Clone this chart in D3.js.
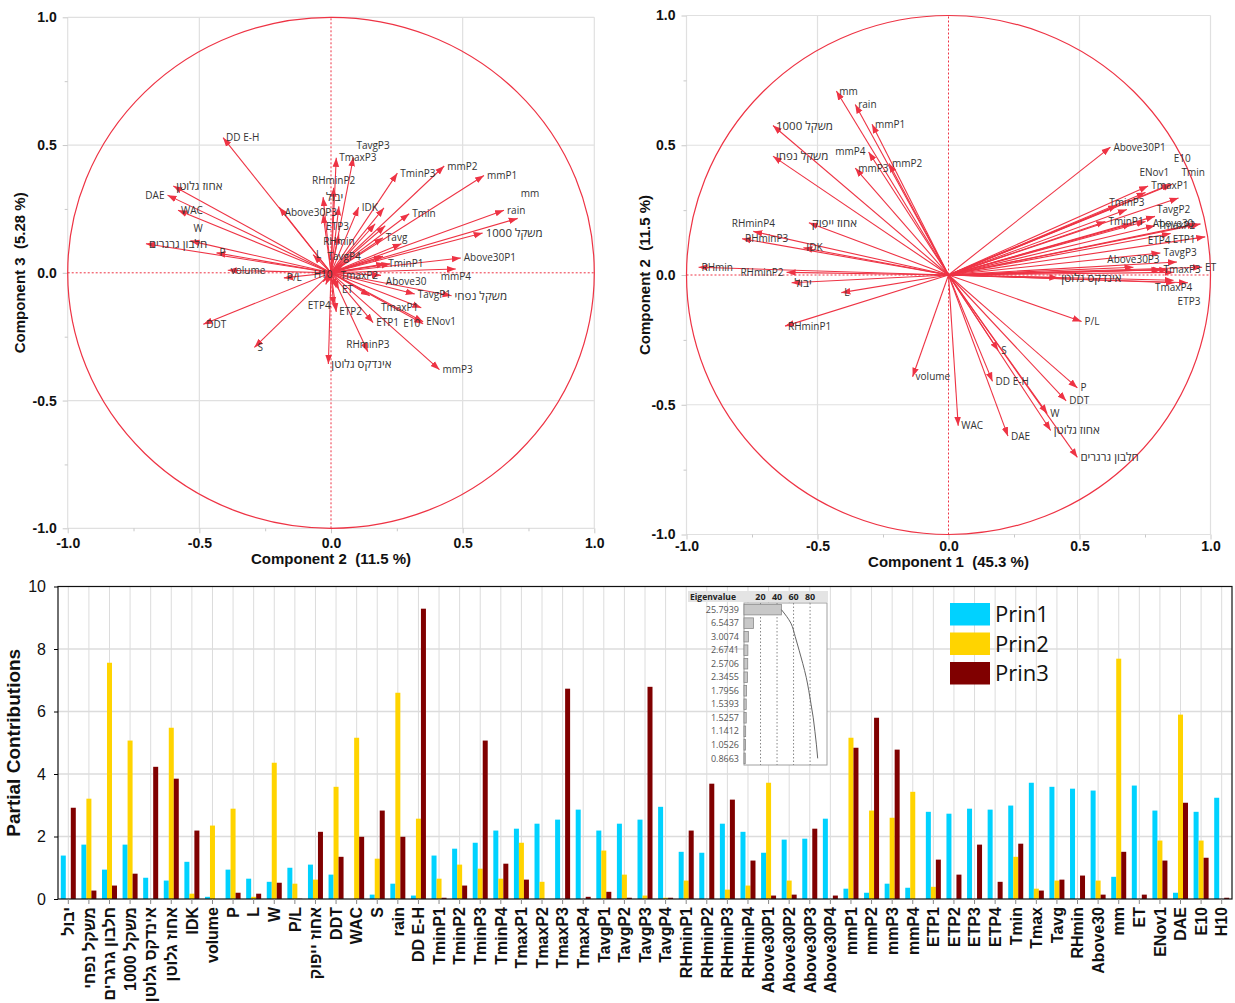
<!DOCTYPE html>
<html><head><meta charset="utf-8">
<script src="https://cdn.jsdelivr.net/npm/d3@7"></script>
<style>
body{margin:0;background:#fff}
text{white-space:pre}
</style>
</head><body>
<svg id="c" width="1235" height="1003"></svg>
<script>
// ---------------- DATA ----------------
const variables = ["יבול","משקל נפחי","חלבון גרגרים","משקל 1000","אינדקס גלוטן","אחוז גלוטן","IDK","volume","P","L","W","P/L","אחוז ייפוק","DDT","WAC","S","rain","DD E-H","TminP1","TminP2","TminP3","TminP4","TmaxP1","TmaxP2","TmaxP3","TmaxP4","TavgP1","TavgP2","TavgP3","TavgP4","RHminP1","RHminP2","RHminP3","RHminP4","Above30P1","Above30P2","Above30P3","Above30P4","mmP1","mmP2","mmP3","mmP4","ETP1","ETP2","ETP3","ETP4","Tmin","Tmax","Tavg","RHmin","Above30","mm","ET","ENov1","DAE","E10","H10"];

// partial contributions (bar chart)
const prin1 = [1.39,1.74,0.94,1.74,0.68,0.59,1.19,0.07,0.94,0.65,0.55,1.00,1.10,0.78,0.00,0.14,0.49,0.11,1.39,1.61,1.80,2.19,2.25,2.41,2.54,2.86,2.19,2.41,2.54,2.95,1.51,1.48,2.41,2.15,1.48,1.90,1.93,2.57,0.33,0.20,0.49,0.36,2.79,2.73,2.89,2.86,2.99,3.72,3.59,3.53,3.47,0.71,3.63,2.83,0.20,2.79,3.24];
const prin2 = [0.00,3.21,7.56,5.07,0.00,5.48,0.17,2.35,2.89,0.07,4.36,0.49,0.62,3.59,5.16,1.29,6.60,2.57,0.65,1.10,0.97,0.65,1.80,0.55,0.00,0.00,1.55,0.78,0.11,0.04,0.59,0.00,0.30,0.43,3.72,0.59,0.00,0.00,5.16,2.83,2.60,3.43,0.39,0.00,0.00,0.00,1.35,0.33,0.59,0.00,0.59,7.69,0.00,1.87,5.90,1.87,0.00];
const prin3 = [2.92,0.27,0.43,0.81,4.23,3.85,2.19,0.00,0.20,0.17,0.52,0.01,2.15,1.35,1.99,2.83,1.99,9.29,0.04,0.43,5.07,1.13,0.62,0.00,6.73,0.07,0.23,0.04,6.79,0.04,2.19,3.69,3.18,1.23,0.11,0.14,2.25,0.11,4.84,5.80,4.78,0.00,1.26,0.78,1.74,0.55,1.77,0.27,0.62,0.75,0.14,1.51,0.14,1.23,3.08,1.32,0.04];

// loadings (biplots)
const comp1 = [-0.599,-0.670,0.492,-0.670,0.419,0.390,-0.554,-0.137,0.492,-0.409,0.377,0.508,-0.533,0.449,0.037,0.190,-0.356,0.168,0.599,0.644,0.681,0.752,0.762,0.788,0.809,0.859,0.752,0.788,0.809,0.872,-0.624,-0.618,-0.788,-0.745,0.618,0.700,0.706,0.814,-0.292,-0.227,-0.356,-0.305,0.848,0.839,0.863,0.859,0.878,0.980,0.962,-0.954,0.946,-0.428,0.968,0.854,0.227,0.848,0.914];
const comp2 = [-0.030,0.458,-0.703,0.576,-0.010,-0.599,0.105,-0.392,-0.435,-0.068,-0.534,-0.179,0.201,-0.485,-0.581,-0.291,0.657,-0.410,0.206,0.268,0.252,0.206,0.343,0.190,0.020,-0.020,0.318,0.226,0.085,0.050,-0.197,0.010,0.140,0.168,0.493,0.197,0.030,0.020,0.581,0.430,0.412,0.474,0.160,0.020,-0.030,0.010,0.297,0.147,0.197,0.030,0.197,0.709,0.030,0.350,-0.621,0.350,-0.030];
const comp3 = [0.296,-0.090,0.114,0.156,-0.357,0.340,0.257,0.010,0.078,0.071,0.125,-0.020,0.254,-0.201,0.245,-0.292,0.245,0.529,0.035,0.114,0.390,0.184,-0.137,-0.010,0.450,-0.046,-0.083,0.035,0.452,0.035,0.257,0.333,-0.309,0.192,0.058,0.065,0.260,-0.058,0.381,0.418,-0.379,0.015,-0.195,-0.153,0.229,-0.129,0.231,-0.090,0.137,0.150,0.065,0.213,-0.065,-0.192,0.304,-0.199,-0.035];

const hiddenLeft = ["TminP2","TminP4","TmaxP4","TavgP2","RHminP1","RHminP4","Above30P2","Above30P4","Tmax","אחוז ייפוק"];
const hiddenRight = ["TminP2","TminP4","TavgP1","TavgP4","Above30P2","Above30P4","ETP2","Tmax","Tavg","H10"];

const eigenvalues = [25.7939,6.5437,3.0074,2.6741,2.5706,2.3455,1.7956,1.5393,1.5257,1.1412,1.0526,0.8663];
const eigenTicks = [20,40,60,80];
const biplotTicks = [-1,-0.5,0,0.5,1];
const biplotMinor = [-0.75,-0.25,0.25,0.75];
const barTicks = [0,2,4,6,8,10];
const seriesNames = ["Prin1","Prin2","Prin3"];
const seriesColors = ["#00d2ff","#ffd400","#800000"];

// ---------------- DRAW ----------------
const svg = d3.select("#c");
const RED = "#ee3344";
const defs = svg.append("defs");
defs.append("marker").attr("id","ah").attr("viewBox","0 -4 9 8").attr("refX",9).attr("refY",0)
  .attr("markerWidth",9).attr("markerHeight",8).attr("markerUnits","userSpaceOnUse").attr("orient","auto")
  .append("path").attr("d","M0,-3.3L9,0L0,3.3Z").attr("fill",RED);

const rows = variables.map((v,i)=>({name:v, c1:comp1[i], c2:comp2[i], c3:comp3[i], p:[prin1[i],prin2[i],prin3[i]]}));
const isHeb = s => /[\u0590-\u05FF]/.test(s);

function biplot(o){
  const g = svg.append("g");
  const x = d3.scaleLinear().domain([-1,1]).range([o.left,o.right]);
  const y = d3.scaleLinear().domain([-1,1]).range([o.bottom,o.top]);
  [-1,-0.5,0.5,1].forEach(v=>{
    g.append("line").attr("x1",x(v)).attr("x2",x(v)).attr("y1",y(-1)).attr("y2",y(1)).attr("stroke","#e0e0e0").attr("stroke-width",1.2);
    g.append("line").attr("y1",y(v)).attr("y2",y(v)).attr("x1",x(-1)).attr("x2",x(1)).attr("stroke","#e0e0e0").attr("stroke-width",1.2);
  });
  const fmt = d=>d.toFixed(1);
  const ax = g.append("g").attr("transform",`translate(0,${y(-1)})`)
    .call(d3.axisBottom(x).tickValues(biplotTicks).tickFormat(fmt).tickSize(5).tickPadding(o.xPad));
  ax.append("g").call(d3.axisBottom(x).tickValues(biplotMinor).tickFormat("").tickSize(3));
  const ay = g.append("g").attr("transform",`translate(${x(-1)},0)`)
    .call(d3.axisLeft(y).tickValues(biplotTicks).tickFormat(fmt).tickSize(5).tickPadding(6));
  ay.append("g").call(d3.axisLeft(y).tickValues(biplotMinor).tickFormat("").tickSize(3));
  [ax,ay].forEach(a=>{
    a.selectAll(".domain").remove();
    a.selectAll("line").attr("stroke","#c8c8c8");
    a.selectAll("text").attr("font-family","Liberation Sans, Arial, sans-serif").attr("font-weight","bold").attr("font-size",14).attr("fill","#111");
  });
  g.append("text").attr("x",(x(-1)+x(1))/2).attr("y",y(-1)+o.titleOff).attr("text-anchor","middle")
    .attr("font-family","Liberation Sans, Arial, sans-serif").attr("font-weight","bold").attr("font-size",15).attr("fill","#111").text(o.xTitle);
  g.append("text").attr("transform",`translate(${o.yTitleX},${(y(-1)+y(1))/2}) rotate(-90)`).attr("text-anchor","middle")
    .attr("font-family","Liberation Sans, Arial, sans-serif").attr("font-weight","bold").attr("font-size",15).attr("fill","#111").text(o.yTitle);
  g.append("line").attr("x1",x(0)).attr("x2",x(0)).attr("y1",y(-1)).attr("y2",y(1)).attr("stroke",RED).attr("stroke-width",1).attr("stroke-dasharray","2,2");
  g.append("line").attr("y1",y(0)).attr("y2",y(0)).attr("x1",x(-1)).attr("x2",x(1)).attr("stroke",RED).attr("stroke-width",1).attr("stroke-dasharray","2,2");
  g.append("ellipse").attr("cx",x(0)).attr("cy",y(0)).attr("rx",x(1)-x(0)).attr("ry",y(0)-y(1))
    .attr("fill","none").attr("stroke",RED).attr("stroke-width",1.2);
  g.selectAll(".ray").data(rows).join("line").attr("class","ray")
    .attr("x1",x(0)).attr("y1",y(0)).attr("x2",d=>x(d[o.kx])).attr("y2",d=>y(d[o.ky]))
    .attr("stroke",RED).attr("stroke-width",1.1).attr("marker-end","url(#ah)");
  // labels with simple collision avoidance
  const placed = [];
  const overl = (a,b)=> a.x < b.x+b.w+1.5 && b.x < a.x+a.w+1.5 && a.y < b.y+b.h+1 && b.y < a.y+a.h+1;
  rows.filter(d=>!o.hidden.includes(d.name)).forEach(d=>{
    const fs = isHeb(d.name) ? 11.5 : 10;
    const t = g.append("text").attr("font-family","Open Sans, DejaVu Sans, sans-serif").attr("font-size",fs).attr("fill","#333").text(d.name);
    const w = t.node().getComputedTextLength(), h = fs*1.1;
    const px = x(d[o.kx]), py = y(d[o.ky]);
    const base = [
      {x:px+3, y:py-h/2}, {x:px-3-w, y:py-h/2},
      {x:px-w/2, y:py-h-2}, {x:px-w/2, y:py+2},
      {x:px+2, y:py-h-1}, {x:px+2, y:py+1},
      {x:px-w-2, y:py-h-1}, {x:px-w-2, y:py+1}
    ];
    [1.6,2.2,2.8,3.4,4.0].forEach(k=>{
      base.push({x:px+3, y:py-h*k},{x:px+3, y:py+h*(k-1)},{x:px-w-3, y:py-h*k},{x:px-w-3, y:py+h*(k-1)},
                {x:px-w/2, y:py-h*k},{x:px-w/2, y:py+h*(k-1)});
    });
    const cands = base.map(c=>({x:c.x,y:c.y,w:w,h:h}));
    let best = cands.find(c=> c.x+c.w < 1233 && !placed.some(p=>overl(c,p)));
    if(!best) best = cands.find(c=> c.x+c.w < 1233) || cands[0];
    placed.push(best);
    t.attr("x",best.x).attr("y",best.y+h/2).attr("dy","0.35em");
  });
}

biplot({left:67.7,right:594.3,top:17.3,bottom:528.3,kx:"c2",ky:"c3",xPad:5,titleOff:36,
  xTitle:"Component 2  (11.5 %)", yTitle:"Component 3  (5.28 %)", yTitleX:25, hidden:hiddenLeft});
biplot({left:686.5,right:1210.5,top:15.5,bottom:534.5,kx:"c1",ky:"c2",xPad:2,titleOff:32,
  xTitle:"Component 1  (45.3 %)", yTitle:"Component 2  (11.5 %)", yTitleX:650, hidden:hiddenRight});

// ---------------- BAR CHART ----------------
const bg = svg.append("g");
const bx = d3.scaleBand().domain(variables).range([58,1232]);
const by = d3.scaleLinear().domain([0,10]).range([899,586.5]);
const sub = d3.scaleBand().domain([0,1,2]).range([-7.5,7.5]);
variables.forEach(v=>{
  bg.append("line").attr("x1",bx(v)+bx.bandwidth()/2).attr("x2",bx(v)+bx.bandwidth()/2).attr("y1",by(0)).attr("y2",by(10)).attr("stroke","#dcdcdc");
});
barTicks.slice(1,-1).forEach(t=>{
  bg.append("line").attr("x1",58).attr("x2",1232).attr("y1",by(t)).attr("y2",by(t)).attr("stroke","#dcdcdc").attr("stroke-width",1.3);
});
const groups = bg.selectAll(".grp").data(rows).join("g").attr("class","grp")
  .attr("transform",d=>`translate(${bx(d.name)+bx.bandwidth()/2},0)`);
groups.selectAll("rect").data(d=>d.p.map((v,k)=>({v,k}))).join("rect")
  .attr("x",d=>sub(d.k)).attr("width",sub.bandwidth()).attr("y",d=>by(d.v)).attr("height",d=>by(0)-by(d.v))
  .attr("fill",d=>seriesColors[d.k]);
bg.append("rect").attr("x",58).attr("y",by(10)).attr("width",1232-58).attr("height",by(0)-by(10)).attr("fill","none").attr("stroke","#111").attr("stroke-width",1.2);
const bax = bg.append("g").attr("transform",`translate(58,0)`).call(d3.axisLeft(by).tickValues(barTicks).tickSize(4).tickPadding(8));
bax.select(".domain").remove();
bax.selectAll("text").attr("font-family","Liberation Sans, Arial, sans-serif").attr("font-size",16).attr("fill","#111");
const bxa = bg.append("g").attr("transform",`translate(0,${by(0)})`).call(d3.axisBottom(bx).tickSize(5).tickPadding(3));
bxa.select(".domain").remove();
bxa.selectAll("line").attr("stroke","#888");
bxa.selectAll("text").attr("transform","rotate(-90)").attr("text-anchor","end").attr("x",-8).attr("y",0).attr("dy","0.36em")
  .attr("font-family","Liberation Sans, DejaVu Sans, Arial, sans-serif").attr("font-weight","bold").attr("font-size",16).attr("fill","#111");
bg.append("text").attr("transform",`translate(20,${(by(0)+by(10))/2}) rotate(-90)`).attr("text-anchor","middle")
  .attr("font-family","Liberation Sans, Arial, sans-serif").attr("font-weight","bold").attr("font-size",19).attr("fill","#111").text("Partial Contributions");

// legend
const lg = bg.append("g").attr("transform","translate(950,603)");
seriesNames.forEach((n,k)=>{
  lg.append("rect").attr("x",0).attr("y",k*29.5).attr("width",40).attr("height",22.5).attr("fill",seriesColors[k]);
  lg.append("text").attr("x",45).attr("y",k*29.5+19).attr("font-family","Open Sans, DejaVu Sans, sans-serif").attr("font-size",22).attr("fill","#111").text(n);
});

// eigenvalue inset
const eg = svg.append("g");
const ex = d3.scaleLinear().domain([0,100]).range([744,826.6]);
const ey = d3.scaleBand().domain(d3.range(eigenvalues.length)).range([603,765]).paddingInner(0.22).paddingOuter(0.1);
const total = variables.length;
const pct = eigenvalues.map(e=>e/total*100);
const cum = Array.from(d3.cumsum(pct));
eg.append("rect").attr("x",688).attr("y",591).attr("width",140).attr("height",11).attr("fill","#e4e4e4");
eg.append("text").attr("x",690).attr("y",599.5).attr("font-family","Open Sans, DejaVu Sans, sans-serif").attr("font-weight","bold").attr("font-size",8.5).attr("fill","#222").text("Eigenvalue");
eigenTicks.forEach(t=>{
  eg.append("text").attr("x",ex(t)).attr("y",599.5).attr("text-anchor","middle").attr("font-family","Open Sans, DejaVu Sans, sans-serif").attr("font-weight","bold").attr("font-size",9).attr("fill","#222").text(t);
});
eg.append("rect").attr("x",744).attr("y",603).attr("width",83).attr("height",162).attr("fill","#fff").attr("stroke","#a0a0a0");
eigenTicks.forEach(t=>{
  eg.append("line").attr("x1",ex(t)).attr("x2",ex(t)).attr("y1",603).attr("y2",765).attr("stroke","#888").attr("stroke-dasharray","1.5,2");
});
eg.selectAll(".eb").data(pct).join("rect").attr("class","eb")
  .attr("x",ex(0)).attr("y",(d,i)=>ey(i)).attr("height",ey.bandwidth()).attr("width",d=>ex(d)-ex(0))
  .attr("fill","#c8c8c8").attr("stroke","#8a8a8a").attr("stroke-width",0.8);
eg.selectAll(".ev").data(eigenvalues).join("text").attr("class","ev")
  .attr("x",739).attr("y",(d,i)=>ey(i)+ey.bandwidth()/2).attr("dy","0.35em").attr("text-anchor","end")
  .attr("font-family","Open Sans, DejaVu Sans, sans-serif").attr("font-size",9).attr("fill","#555").text(d=>d.toFixed(4));
eg.append("path").datum(cum).attr("fill","none").attr("stroke","#666").attr("stroke-width",1)
  .attr("d",d3.line().x(d=>ex(d)).y((d,i)=>ey(i)+ey.bandwidth()/2).curve(d3.curveMonotoneY));
</script>
</body></html>
